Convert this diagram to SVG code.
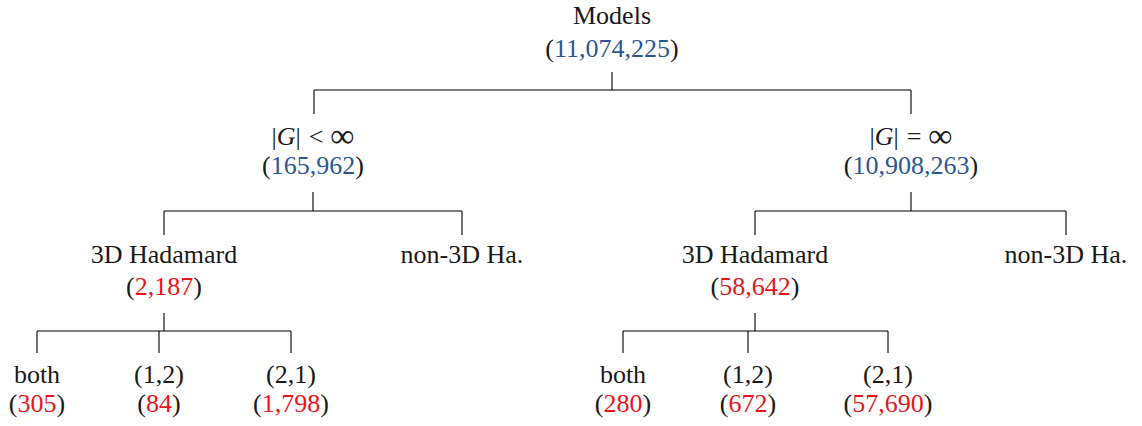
<svg xmlns="http://www.w3.org/2000/svg" width="1142" height="426" viewBox="0 0 1142 426">
<style>
text{font-family:'Liberation Serif','Times New Roman','DejaVu Serif',serif;font-size:26px;fill:#1a1a1a;text-anchor:middle}
.b{fill:#2b5797}
.r{fill:#e8151b}
.i{font-style:italic}
.inf{font-size:34px}
#connectors path{fill:none;stroke:#000;stroke-width:1.1}
</style>
<rect width="1142" height="426" fill="#fff"/>
<g id="connectors">
<path d="M612,72V90M314,90H911M314,90V114M911,90V114"/>
<path d="M313,192V211M164,211H462M164,211V235M462,211V235"/>
<path d="M911,192V211M755,211H1066M755,211V235M1066,211V235"/>
<path d="M164,313V331M37,331H291M37,331V353M159,331V353M291,331V353"/>
<path d="M755,313V331M623,331H888M623,331V353M748,331V353M888,331V353"/>
</g>
<g id="root"><text x="612" y="24">Models</text><text x="612" y="57">(<tspan class="b">11,074,225</tspan>)</text></g>
<g id="finite"><text x="313" y="145">|<tspan class="i">G</tspan>|<tspan dx="8">&lt;</tspan><tspan dx="7" dy="2" class="inf">∞</tspan></text><text x="313" y="174">(<tspan class="b">165,962</tspan>)</text></g>
<g id="infinite"><text x="911" y="145">|<tspan class="i">G</tspan>|<tspan dx="8">=</tspan><tspan dx="7" dy="2" class="inf">∞</tspan></text><text x="911" y="174">(<tspan class="b">10,908,263</tspan>)</text></g>
<g id="had-left"><text x="164" y="263">3D Hadamard</text><text x="164" y="295">(<tspan class="r">2,187</tspan>)</text></g>
<g id="non-left"><text x="462" y="263">non-3D Ha.</text></g>
<g id="had-right"><text x="755" y="263">3D Hadamard</text><text x="755" y="295">(<tspan class="r">58,642</tspan>)</text></g>
<g id="non-right"><text x="1066" y="263">non-3D Ha.</text></g>
<g id="both-left"><text x="37" y="383">both</text><text x="37" y="412">(<tspan class="r">305</tspan>)</text></g>
<g id="12-left"><text x="159" y="383">(1,2)</text><text x="159" y="412">(<tspan class="r">84</tspan>)</text></g>
<g id="21-left"><text x="291" y="383">(2,1)</text><text x="291" y="412">(<tspan class="r">1,798</tspan>)</text></g>
<g id="both-right"><text x="623" y="383">both</text><text x="623" y="412">(<tspan class="r">280</tspan>)</text></g>
<g id="12-right"><text x="748" y="383">(1,2)</text><text x="748" y="412">(<tspan class="r">672</tspan>)</text></g>
<g id="21-right"><text x="888" y="383">(2,1)</text><text x="888" y="412">(<tspan class="r">57,690</tspan>)</text></g>
</svg>
